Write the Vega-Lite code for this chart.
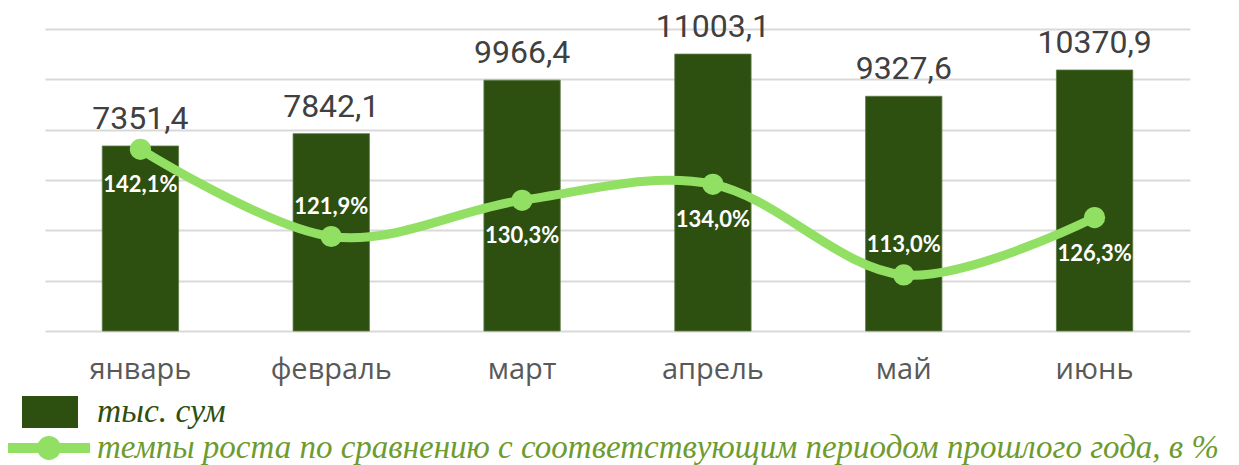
{
  "$schema": "https://vega.github.io/schema/vega-lite/v6.json",
  "autosize": {"type": "none"},
  "padding": {"left": 45, "top": 29, "right": 49, "bottom": 134},
  "width": 1145,
  "height": 302,
  "background": "white",
  "config": {
    "view": {"stroke": null},
    "locale": {"number": {"decimal": ",", "thousands": " ", "grouping": [3], "currency": ["", ""]}}
  },
  "data": {"values": [
    {"month": "январь", "value": 7351.4, "pct": 1.421},
    {"month": "февраль", "value": 7842.1, "pct": 1.219},
    {"month": "март", "value": 9966.4, "pct": 1.303},
    {"month": "апрель", "value": 11003.1, "pct": 1.340},
    {"month": "май", "value": 9327.6, "pct": 1.130},
    {"month": "июнь", "value": 10370.9, "pct": 1.263}
  ]},
  "encoding": {
    "x": {
      "field": "month", "type": "nominal", "sort": null,
      "scale": {"paddingInner": 0.6, "paddingOuter": 0.3},
      "axis": {
        "title": null, "domain": false, "ticks": false, "tickSize": 0, "grid": false,
        "labelAngle": 0, "labelFont": "Open Sans", "labelFontSize": 29, "labelColor": "#595959",
        "labelBaseline": "alphabetic", "labelPadding": 47
      }
    }
  },
  "layer": [
    {
      "encoding": {
        "y": {
          "field": "value", "type": "quantitative",
          "scale": {"domain": [0, 12000], "nice": false},
          "axis": {"title": null, "labels": false, "ticks": false, "domain": false,
                   "values": [0, 2000, 4000, 6000, 8000, 10000, 12000],
                   "gridColor": "#D9D9D9", "gridWidth": 2}
        }
      },
      "layer": [
        {
          "mark": {"type": "bar", "stroke": "#5E7A45", "strokeWidth": 0.8},
          "encoding": {
            "color": {
              "datum": "тыс. сум", "type": "nominal",
              "scale": {"range": ["#2D5011"]},
              "legend": {
                "orient": "none", "legendX": -23, "legendY": 355, "title": null, "padding": 0,
                "symbolType": "M-1,-0.57H1V0.57H-1Z", "symbolSize": 3136, "symbolStrokeWidth": 0,
                "labelFont": "Liberation Serif", "labelFontStyle": "italic", "labelFontSize": 33.5,
                "labelColor": "#2D5011", "labelOffset": 19, "labelLimit": 1300
              }
            }
          }
        },
        {
          "mark": {"type": "text", "baseline": "alphabetic", "dy": -17, "font": "Roboto", "fontSize": 32, "color": "#404040"},
          "encoding": {"text": {"field": "value", "type": "quantitative", "format": ".1f"}}
        }
      ]
    },
    {
      "encoding": {
        "y": {
          "field": "pct", "type": "quantitative",
          "scale": {"domain": [1.0, 1.7], "nice": false, "zero": false},
          "axis": null
        }
      },
      "layer": [
        {
          "mark": {"type": "line", "interpolate": "cardinal", "strokeWidth": 9, "strokeCap": "round"},
          "encoding": {
            "stroke": {
              "datum": "темпы роста по сравнению с соответствующим периодом прошлого года, в %", "type": "nominal",
              "scale": {"range": ["#92E063"]},
              "legend": {
                "orient": "none", "legendX": -37, "legendY": 378, "title": null, "padding": 0,
                "symbolType": "M-1,-0.12H1V0.12H-1Z M0.29,0A0.29,0.29 0 1,1 -0.29,0A0.29,0.29 0 1,1 0.29,0Z",
                "symbolSize": 6724, "symbolStrokeWidth": 0, "symbolFillColor": "#92E063",
                "labelFont": "Liberation Serif", "labelFontStyle": "italic", "labelFontSize": 33,
                "labelColor": "#6E9B2E", "labelOffset": 7, "labelLimit": 1300,
                "encode": {"symbols": {"update": {"fill": {"value": "#92E063"}, "strokeWidth": {"value": 0}}}}
              }
            }
          }
        },
        {
          "mark": {"type": "point", "filled": true, "size": 450, "opacity": 1, "color": "#92E063"}
        },
        {
          "transform": [{"filter": {"field": "month", "oneOf": ["февраль", "май"]}}],
          "mark": {"type": "text", "baseline": "middle", "dy": -30, "font": "Lato", "fontWeight": "bold", "fontSize": 22, "color": "white"},
          "encoding": {"text": {"field": "pct", "type": "quantitative", "format": ".1%"}}
        },
        {
          "transform": [{"filter": {"field": "month", "oneOf": ["январь", "март", "апрель", "июнь"]}}],
          "mark": {"type": "text", "baseline": "middle", "dy": 36, "font": "Lato", "fontWeight": "bold", "fontSize": 22, "color": "white"},
          "encoding": {"text": {"field": "pct", "type": "quantitative", "format": ".1%"}}
        }
      ]
    }
  ],
  "resolve": {"scale": {"y": "independent"}}
}
